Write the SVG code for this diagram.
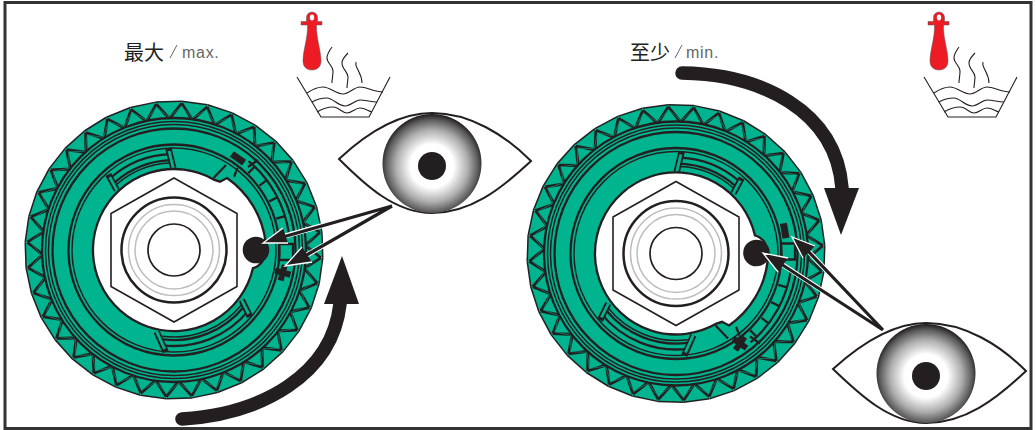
<svg xmlns="http://www.w3.org/2000/svg" xmlns:xlink="http://www.w3.org/1999/xlink" width="1036" height="430" viewBox="0 0 1036 430">
<style>
.g{fill:#00b48f;stroke:none}
.l{fill:none;stroke:#231f20;stroke-width:1.5}
.m{fill:none;stroke:#231f20;stroke-width:2.3}
.st{fill:none;stroke:#231f20;stroke-width:3;stroke-linejoin:miter}
.sti{fill:none;stroke:#00b48f;stroke-width:.5}
.sl{fill:none;stroke:#231f20;stroke-width:6.500}
.sli{fill:none;stroke:#00b48f;stroke-width:2.8}
.k{fill:#231f20;stroke:none}
.kl{fill:none;stroke:#231f20;stroke-width:1.7}
.thin{fill:none;stroke:#231f20;stroke-width:1.1}
.gry{fill:none;stroke:#bdbdbd;stroke-width:1.5}
.shaft{fill:none;stroke:#231f20;stroke-width:3.2}
.halo{fill:none;stroke:#fff;stroke-width:5}
.hw{fill:none;stroke:#fff;stroke-width:1.3}
.big{fill:none;stroke:#231f20;stroke-width:13.5;stroke-linecap:round}
.cjk{font-family:"Noto Sans CJK SC",sans-serif;font-size:20px;fill:#231f20}
.lat{font-family:"Liberation Sans",sans-serif;font-size:16px;fill:#666;letter-spacing:.7px}
.eye{fill:#fff;stroke:#231f20;stroke-width:2}
.red{fill:#ed1c24;stroke:#555;stroke-width:.5}
</style>
<defs>
<radialGradient id="iris" cx=".5" cy=".525" r=".52">
<stop offset=".42" stop-color="#fff"/>
<stop offset=".7" stop-color="#aeaeae"/>
<stop offset=".9" stop-color="#5a5a5a"/>
<stop offset="1" stop-color="#231f20"/>
</radialGradient>
<g id="tooth">
<polygon class="g" points="0,-120 0,-149 25.9,-146.7 20.8,-118"/>
<path class="l" d="M0-149L25.9-146.7"/>
<path class="st" d="M0-147L11.4-131L25.7-144.700"/>
<path class="sti" d="M0-144L11.4-132.500L25.4-142"/>
</g>
<g id="teeth">
<circle class="g" r="147"/>
<use xlink:href="#tooth"/><use xlink:href="#tooth" transform="rotate(10)"/><use xlink:href="#tooth" transform="rotate(20)"/><use xlink:href="#tooth" transform="rotate(30)"/><use xlink:href="#tooth" transform="rotate(40)"/><use xlink:href="#tooth" transform="rotate(50)"/><use xlink:href="#tooth" transform="rotate(60)"/><use xlink:href="#tooth" transform="rotate(70)"/><use xlink:href="#tooth" transform="rotate(80)"/><use xlink:href="#tooth" transform="rotate(90)"/><use xlink:href="#tooth" transform="rotate(100)"/><use xlink:href="#tooth" transform="rotate(110)"/><use xlink:href="#tooth" transform="rotate(120)"/><use xlink:href="#tooth" transform="rotate(130)"/><use xlink:href="#tooth" transform="rotate(140)"/><use xlink:href="#tooth" transform="rotate(150)"/><use xlink:href="#tooth" transform="rotate(160)"/><use xlink:href="#tooth" transform="rotate(170)"/><use xlink:href="#tooth" transform="rotate(180)"/><use xlink:href="#tooth" transform="rotate(190)"/><use xlink:href="#tooth" transform="rotate(200)"/><use xlink:href="#tooth" transform="rotate(210)"/><use xlink:href="#tooth" transform="rotate(220)"/><use xlink:href="#tooth" transform="rotate(230)"/><use xlink:href="#tooth" transform="rotate(240)"/><use xlink:href="#tooth" transform="rotate(250)"/><use xlink:href="#tooth" transform="rotate(260)"/><use xlink:href="#tooth" transform="rotate(270)"/><use xlink:href="#tooth" transform="rotate(280)"/><use xlink:href="#tooth" transform="rotate(290)"/><use xlink:href="#tooth" transform="rotate(300)"/><use xlink:href="#tooth" transform="rotate(310)"/><use xlink:href="#tooth" transform="rotate(320)"/><use xlink:href="#tooth" transform="rotate(330)"/><use xlink:href="#tooth" transform="rotate(340)"/><use xlink:href="#tooth" transform="rotate(350)"/>
</g>
<g id="rings">
<circle class="g" r="132"/>
<circle class="m" r="132"/><circle class="l" r="128.500"/><circle class="l" r="125.500"/><circle class="m" r="121.500"/>
<circle class="m" r="105.500"/><circle class="l" r="102"/>
<path class="m" d="M-63-72.500A96 96 0 0 1-4.200-95.900M-59-67.900A90 90 0 0 1-3.900-89.900"/>
<path class="l" d="M-57.100-65.700A87 87 0 0 1-3.800-86.900"/>
<path class="m" d="M75 59.900A96 96 0 0 1-12.900 95.100M70.300 56.200A90 90 0 0 1-12.100 89.200"/>
<path class="l" d="M68 54.300A87 87 0 0 1-11.700 86.200"/>
<path class="sl" d="M-.7-81.700L-5.700-102M-57.300-60L-65.700-75.500M67.700 50L76 66.700M-17.300 81.700L-8.300 102"/>
<path class="sli" d="M-.7-81.700L-4.900-99M-57.300-60L-64.200-72.800M67.700 50L74.600 63.900M-17.300 81.700L-9.400 99"/>
</g>
<g id="hole">
<path d="M78.900 18.200A81 81 0 1 1 40.500-70.100L46-68.300L53-72A92 92 0 0 1 91.600-8Q92 6 88 12Q84 17 78.900 18.200Z" fill="#fff" stroke="#231f20" stroke-width="2.300"/>
<path class="m" d="M102.300-31.300L110.900-33.900M95.300-48.600L103.400-52.700M85.500-64.400L92.600-69.800M74.300-76.900L80.600-83.400"/>
<path class="m" d="M74.600-88.900A116 116 0 0 1 114.900-16.100"/>
<path class="m" d="M105-6H119V10H105Z"/>
<path class="m" d="M39.500-72L52-85M60-73.300L63.500-82M74-83L84-90"/>
<path class="sli" d="M44-72L54-82"/>
</g>
<g id="hub">
<polygon points="0,-72 63,-36.500 63,36.500 0,72 -63,36.500 -63,-36.500" fill="#fff" stroke="#231f20" stroke-width="1.600"/>
<circle r="52.500" fill="#fff" stroke="#231f20" stroke-width="2.500"/>
<circle class="gry" r="45.500"/><circle class="gry" r="39"/>
<circle class="kl" r="26"/>
</g>
<g id="cross"><path class="k" d="M-8-3H-3V-8H3V-3H8V3H3V8H-3V3H-8Z"/></g>
<g id="bath">
<path d="M312 12a5.500 5.500 0 0 1 5.500 5.500V21.500H322V25H316.500C316 38 321 50 321 61C321 67 317 70 312 70C307 70 303 67 303 61C303 50 308 38 307.500 25H301V21.500H306.500V17.500A5.500 5.500 0 0 1 312 12Z" class="red"/>
<ellipse cx="312" cy="17.500" rx="2.200" ry="3" fill="#fff"/>
<path class="thin" d="M297 77L321 117H369L390 77"/>
<path class="thin" d="M307 93C313 89 318 87 323 87C330 87 336 94 343 94C349 94 354 87 360 87C367 87 374 92 383 92"/>
<path class="thin" d="M312 102C317 99 322 98 327 98C333 98 338 106 345 106C351 106 355 100 360 100C366 100 371 102 377 102"/>
<path class="thin" d="M317 112C322 109 328 107 333 107C339 107 342 113 347 113C352 113 355 108 360 108C365 108 368 111 372 112"/>
<path class="thin" d="M332 47C329 51 327 54 327 58C327 63 333 66 333 71C333 76 332 79 332 83"/>
<path class="thin" d="M348 53C345 56 342 59 342 63C342 69 348 72 348 77C348 81 347 84 347 88"/>
<path class="thin" d="M356 62C355 65 356 66 358 70C360 74 362 77 362 83"/>
</g>
</defs>
<rect width="1036" height="430" fill="#fff"/>
<rect x="5" y="2.500" width="1026" height="426" fill="none" stroke="#333" stroke-width="3"/>

<g id="label-max"><text class="cjk" x="124" y="60">最大</text><path d="M170 58L177 45" stroke="#666" stroke-width="1" fill="none"/><text class="lat" x="182" y="58">max.</text></g>
<g id="label-min"><text class="cjk" x="630" y="60">至少</text><path d="M675 58L682 45" stroke="#666" stroke-width="1" fill="none"/><text class="lat" x="686" y="58">min.</text></g>
<g id="bath-left"><use xlink:href="#bath"/></g>
<g id="bath-right"><use xlink:href="#bath" transform="translate(627,0)"/></g>

<g id="wheel-left" transform="translate(174,250)">
<use xlink:href="#teeth" transform="rotate(3)"/>
<use xlink:href="#rings"/>
<use xlink:href="#hole"/>
<use xlink:href="#hub"/>
<rect class="k" x="-7.500" y="-3.500" width="15" height="7" transform="translate(64,-91.700) rotate(35)"/>
<use xlink:href="#cross" transform="translate(108.700,22.700) rotate(15)"/>
<circle class="k" cx="82" cy="0" r="13.300"/>
</g>
<g id="wheel-right" transform="translate(676,253.500)">
<use xlink:href="#teeth" transform="scale(-1,1) rotate(3)"/>
<use xlink:href="#rings" transform="scale(-1,1)"/>
<use xlink:href="#hole" transform="scale(1,-1)"/>
<use xlink:href="#hub"/>
<rect class="k" x="-3.500" y="-7.500" width="7" height="15" transform="translate(108.700,-22.700) rotate(-10)"/>
<use xlink:href="#cross" transform="translate(64,90) rotate(35)"/>
<circle class="k" cx="80.500" cy="-.5" r="13.300"/>
</g>

<g id="connectors">
<path class="big" d="M182 419C262 414 332 375 340 304"/>
<polygon class="k" points="342,256 359,304 324,304"/>
<path class="big" d="M682 73C760 74 836 110 842 188"/>
<polygon class="k" points="841,235 859,188 824,188"/>
<path class="halo" d="M285 236L392 206M307 255L392 206"/>
<path class="shaft" d="M283 237L392 206M305 256L392 206"/>
<polygon class="k" points="263,243 283,228 288,243"/>
<path class="hw" d="M283 228L263 243L288 243"/>
<polygon class="k" points="285,266 302,247 312,262"/>
<path class="hw" d="M302 247L285 266L312 262"/>
<path class="halo" d="M783 265L883 330M809 252L883 330"/>
<path class="shaft" d="M781 264L883 330M807 250L883 330"/>
<polygon class="k" points="763,253 788,258 778,272"/>
<path class="hw" d="M788 258L763 253L778 272"/>
<polygon class="k" points="792,237 815,246 803,258"/>
<path class="hw" d="M815 246L792 237L803 258"/>
</g>

<g id="eye-left">
<path class="eye" d="M339 159C370 130 400 113 432 113C470 113 505 135 531 161C500 190 470 213 432 213C395 213 365 185 339 159Z"/>
<circle cx="432" cy="163.500" r="49.500" fill="url(#iris)"/>
<circle class="k" cx="432" cy="166" r="14"/>
</g>
<g id="eye-right">
<path class="eye" d="M833 369C865 340 895 323 926 323C965 323 1000 345 1026 371C995 400 965 423 926 423C890 423 860 395 833 369Z"/>
<circle cx="926" cy="373.500" r="49.500" fill="url(#iris)"/>
<circle class="k" cx="926" cy="376" r="14"/>
</g>
</svg>
